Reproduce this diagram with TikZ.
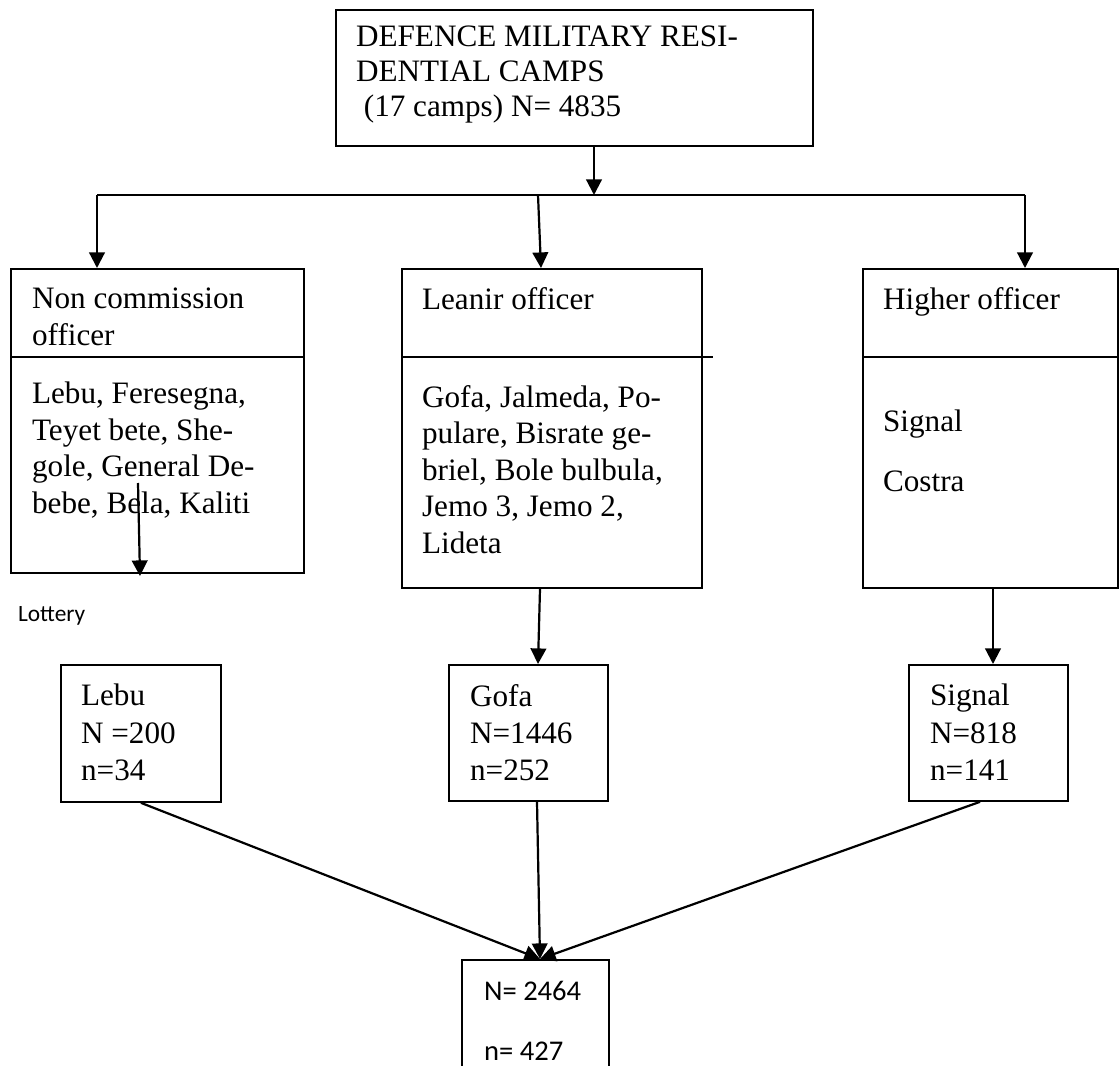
\documentclass[tikz,border=0pt]{standalone}
\usepackage{fontspec}
\setmainfont{Liberation Serif}
\newfontfamily\calibri{Carlito}
\usepackage{tikz}
\usetikzlibrary{arrows.meta}
\usetikzlibrary{positioning}
\usetikzlibrary{calc}

\begin{document}
\begin{tikzpicture}[x=0.385pt,y=-0.385pt,>={Triangle[length=6pt,width=6pt]},
	line width=0.85pt,
	box/.style={draw,line width=0.7pt,inner sep=0pt,anchor=north west},
	serif text/.style={inner sep=0pt,anchor=north west,align=left,font=\fontsize{12}{14.1}\selectfont},
	sans text/.style={inner sep=0pt,anchor=north west,align=left,font=\calibri\fontsize{11}{13.4}\selectfont}]
	
	\clip (0,0) rectangle (1119,1066);
	
	\node[box,minimum width=477*0.385pt,minimum height=136*0.385pt] (camps) at (335,9) {};
	\node[serif text,font=\fontsize{12}{13.5}\selectfont] (campsT) at (355,25) {DEFENCE MILITARY RESI-\\DENTIAL CAMPS\\\mbox{}\ (17 camps) N= 4835};
	
	\node[box,minimum width=293*0.385pt,minimum height=304*0.385pt] (nco) at (10,268) {};
	\node[box,minimum width=300*0.385pt,minimum height=319*0.385pt] (lo) at (401,268) {};
	\node[box,minimum width=255*0.385pt,minimum height=319*0.385pt] (hi) at (862,268) {};
	
	\draw[line width=0.7pt] ($(nco.north west)+(0,89)$) -- ($(nco.north east)+(0,89)$);
	\draw[line width=0.7pt] ($(lo.north west)+(0,89)$) -- ($(lo.north east)+(10,89)$);
	\draw[line width=0.7pt] ($(hi.north west)+(0,89)$) -- ($(hi.north east)+(0,89)$);
	
	\node[serif text] (ncoT) at (31,287) {Non commission\\officer};
	\node[serif text] (ncoL) at (31,381) {Lebu, Feresegna,\\Teyet bete, She-\\gole, General De-\\bebe, Bela, Kaliti};
	\node[serif text] (loT) at (421,286) {Leanir officer};
	\node[serif text] (loL) at (421,384) {Gofa, Jalmeda, Po-\\pulare, Bisrate ge-\\briel, Bole bulbula,\\Jemo 3, Jemo 2,\\Lideta};
	\node[serif text] (hiT) at (882,286) {Higher officer};
	\node[serif text] (hiL) at (882,409) {Signal\\[9pt]Costra};
	
	\node[inner sep=0pt,anchor=base west,font=\calibri\fontsize{9}{11}\selectfont] (lottery) at (17,621) {Lottery};
	
	\node[box,minimum width=160*0.385pt,minimum height=137*0.385pt] (lebu) at (60,664) {};
	\node[box,minimum width=159*0.385pt,minimum height=136*0.385pt] (gofa) at (448,664) {};
	\node[box,minimum width=159*0.385pt,minimum height=136*0.385pt] (signal) at (908,664) {};
	\node[serif text,font=\fontsize{12}{14.4}\selectfont] (lebuT) at (80,683) {Lebu\\N =200\\n=34};
	\node[serif text,font=\fontsize{12}{14.4}\selectfont] (gofaT) at (469,683) {Gofa\\N=1446\\n=252};
	\node[serif text,font=\fontsize{12}{14.4}\selectfont] (signalT) at (929,683) {Signal\\N=818\\n=141};
	
	\node[box,minimum width=147*0.385pt,minimum height=150*0.385pt] (total) at (461,959) {};
	\node[sans text] (totalT) at (483,980) {N= 2464\\[9.7pt]n= 427};
	
	\coordinate (split) at (594,195);
	\coordinate (bl) at (97,195);
	\coordinate (bm) at (538,195);
	\coordinate (br) at (1025,195);
	\coordinate (lotA) at (138,483);
	\coordinate (lotB) at (140,576);
	\coordinate (meet) at ($(total.north west)+(79,0)$);
	
	\draw[->] (camps.south -| split) -- (split);
	\draw (bl) -- (br);
	\draw[->] (bl) -- (bl |- nco.north);
	\draw[->] (bm) -- ($(lo.north west)+(140,0)$);
	\draw[->] (br) -- (br |- hi.north);
	\draw[->] (lotA) -- (lotB);
	\draw[->] ($(lo.south west)+(139,0)$) -- ($(gofa.north west)+(90,0)$);
	\draw[->] ($(hi.south west)+(131,0)$) -- ($(signal.north west)+(85,0)$);
	\draw[->] (lebu.south) -- (meet);
	\draw[->] ($(gofa.south west)+(89,0)$) -- (meet);
	\draw[->] ($(signal.south west)+(72,0)$) -- (meet);
\end{tikzpicture}
\end{document}
